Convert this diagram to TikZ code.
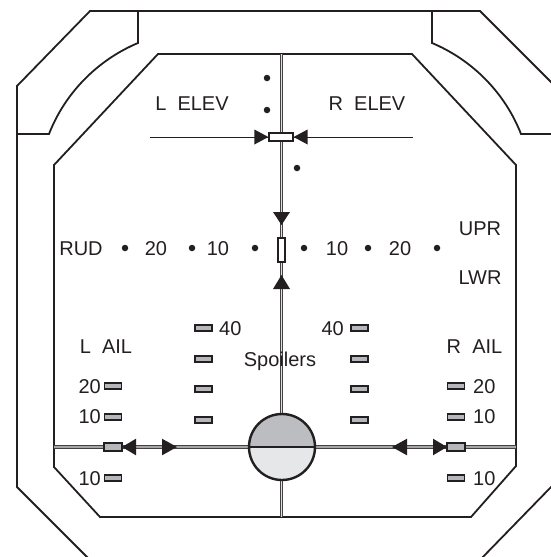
\documentclass[tikz,border=0pt]{standalone}
\usepackage{fontspec}
\setmainfont{Liberation Sans}
\definecolor{ink}{HTML}{231F20}
\definecolor{bargray}{HTML}{B5B7BA}
\definecolor{topgray}{HTML}{BCBDC0}
\definecolor{botgray}{HTML}{E6E7E8}
\begin{document}
\begin{tikzpicture}[x=1pt,y=-1pt,
  frame/.style={draw=ink, line width=1.8pt, line join=miter},
  lbl/.style={font=\fontsize{20}{22}\selectfont, inner sep=0pt, text=ink},
  bar/.style={draw=ink, fill=bargray, line width=1.2pt, minimum width=17pt, minimum height=6pt, inner sep=0pt, rectangle},
  bigbar/.style={bar, minimum width=18pt, minimum height=8pt},
  indic/.style={draw=ink, fill=white, line width=1.2pt, inner sep=0pt, rectangle},
  dlineV/.style={draw=ink!85, double=black!12, double distance=1.6pt, line width=1pt},
  dlineH/.style={draw=ink!85, double=black!35, double distance=1.8pt, line width=1pt},
  dot/.style={circle, fill=ink, inner sep=0pt, minimum size=6.5pt},
  tri/.style={fill=ink}]
\useasboundingbox (0,0) rectangle (551,557);
\clip (0,0) rectangle (551,557);

% outer frame
\draw[frame] (92,562) -- (17,487) -- (17,86) -- (90,11) -- (480,11) -- (553,84) -- (553,485) -- (478,562);
% corner pieces
\draw[frame] (138,11) -- (138,43) .. controls (97.5,60) and (65,93) .. (49,134) -- (17,134);
\draw[frame] (432,11) -- (432,43) .. controls (472.5,60) and (505,93) .. (521,134) -- (553,134);
% inner frame
\draw[frame] (158,54) -- (412,54) -- (516,165) -- (516,466) -- (471,517) -- (100,517) -- (54,467) -- (54,165) -- cycle;

% axis coordinates
\coordinate (vtop) at (281.5,54);
\coordinate (vbot) at (281.5,517);
\coordinate (hl) at (54,447);
\coordinate (hr) at (516,447);
\coordinate (el) at (150,137);
\coordinate (er) at (413,137);

\draw[dlineV] (vtop) -- (vbot);
\draw[dlineH] (hl) -- (hr);
\draw[draw=ink, line width=1pt] (el) -- (er);

% elevator indicator
\node[indic, minimum width=24pt, minimum height=8pt] (elev) at (281,137) {};
\fill[tri] (elev.west) -- ++(-14,-7.5) -- ++(0,15) -- cycle;
\fill[tri] (elev.east) -- ++(14,-7.5) -- ++(0,15) -- cycle;

% elevator dots
\node[dot] (ed1) at (267,78) {};
\node[dot] (ed2) at (267,110) {};
\node[dot] (ed3) at (297,168) {};

\node[lbl, anchor=base] (lelev) at (192,110) {L\ \ ELEV};
\node[lbl, anchor=base] (relev) at (367,110) {R\ \ ELEV};

% rudder
\node[indic, minimum width=7pt, minimum height=24pt] (rud) at (281.5,250) {};
\fill[tri] (281.5,225) -- ++(-8.5,-13) -- ++(17,0) -- cycle;
\fill[tri] (281.5,275) -- ++(-8.5,14) -- ++(17,0) -- cycle;

\node[lbl, anchor=base] (rudl) at (81,255) {RUD};
\node[lbl, anchor=base] (r20l) at (156,255) {20};
\node[lbl, anchor=base] (r10l) at (218,255) {10};
\node[lbl, anchor=base] (r10r) at (337,255) {10};
\node[lbl, anchor=base] (r20r) at (400,255) {20};
\foreach \x [count=\i] in {125,192,255,304,368,437}
  \node[dot] (rd\i) at (\x,248) {};

\node[lbl, anchor=base] (upr) at (480,235) {UPR};
\node[lbl, anchor=base] (lwr) at (480,284) {LWR};

% spoilers
\foreach \y [count=\i] in {328,359,389,420} {
  \node[bar] (spl\i) at (203.5,\y) {};
  \node[bar] (spr\i) at (359.5,\y) {};
}
\node[lbl, anchor=base west] (s40l) at (219,335) {40};
\node[lbl, anchor=base east] (s40r) at (344,335) {40};
\node[lbl, anchor=base] (spoil) at (280,366) {Spoilers};

% ailerons
\node[lbl, anchor=base] (lail) at (106,353) {L\ \ AIL};
\node[lbl, anchor=base] (rail) at (474.5,353) {R\ \ AIL};
\foreach \y [count=\i] in {386,417,478} {
  \node[bar] (alb\i) at (113,\y) {};
  \node[bar] (arb\i) at (456,\y) {};
}
\node[bigbar] (aL) at (113,447) {};
\node[bigbar] (aR) at (456,447) {};

\node[lbl, anchor=base east] (al20) at (101,393) {20};
\node[lbl, anchor=base east] (al10) at (101,423) {10};
\node[lbl, anchor=base east] (al10b) at (101,485) {10};
\node[lbl, anchor=base west] (ar20) at (473,393) {20};
\node[lbl, anchor=base west] (ar10) at (473,423) {10};
\node[lbl, anchor=base west] (ar10b) at (473,485) {10};

% aileron arrows
\fill[tri] (122,447) -- ++(14,-8.3) -- ++(0,16.6) -- cycle;
\fill[tri] (177,447) -- ++(-15,-8.3) -- ++(0,16.6) -- cycle;
\fill[tri] (392,447) -- ++(15,-8.3) -- ++(0,16.6) -- cycle;
\fill[tri] (447,447) -- ++(-14,-8.3) -- ++(0,16.6) -- cycle;

% attitude circle
\node[circle, minimum size=66pt, inner sep=0pt] (ball) at (282,447) {};
\fill[topgray] (282,447) ++(-33,0) arc[start angle=180, end angle=360, radius=33] -- cycle;
\fill[botgray] (282,447) ++(33,0) arc[start angle=0, end angle=180, radius=33] -- cycle;
\draw[ink, line width=2.4pt] (ball.west) -- (ball.east);
\draw[ink, line width=2.4pt] (ball.center) circle[radius=33];
\end{tikzpicture}
\end{document}
